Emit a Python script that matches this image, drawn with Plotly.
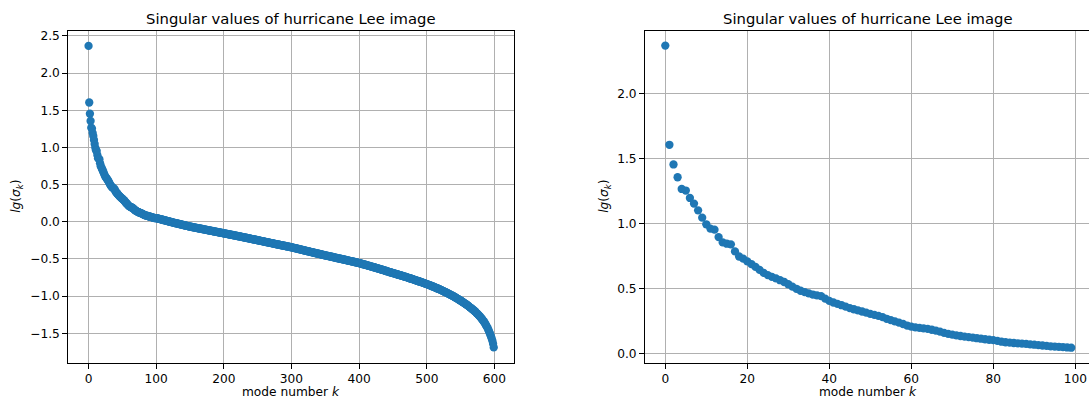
import plotly.graph_objects as go

title_text = "Singular values of hurricane Lee image"
xlabel_text = "mode number <i>k</i>"
ylabel_text = "<i>lg</i>(<i>σ</i><sub><i>k</i></sub>)"

# lg(sigma_k) for modes k = 0..99
lg_sigma_0_99 = [
    2.366, 1.605, 1.454, 1.356, 1.266, 1.254, 1.197, 1.154, 1.102, 1.046,
    0.995, 0.962, 0.954, 0.897, 0.856, 0.846, 0.841, 0.787, 0.748, 0.731,
    0.710, 0.690, 0.668, 0.645, 0.622, 0.605, 0.592, 0.580, 0.566, 0.552,
    0.535, 0.517, 0.500, 0.485, 0.474, 0.465, 0.456, 0.450, 0.444, 0.425,
    0.407, 0.395, 0.384, 0.374, 0.363, 0.352, 0.343, 0.334, 0.326, 0.317,
    0.308, 0.300, 0.292, 0.283, 0.270, 0.260, 0.250, 0.240, 0.230, 0.218,
    0.210, 0.204, 0.200, 0.196, 0.192, 0.186, 0.179, 0.171, 0.162, 0.154,
    0.148, 0.143, 0.138, 0.133, 0.129, 0.125, 0.121, 0.117, 0.113, 0.109,
    0.106, 0.100, 0.094, 0.090, 0.087, 0.084, 0.082, 0.079, 0.077, 0.074,
    0.071, 0.068, 0.065, 0.062, 0.059, 0.057, 0.055, 0.052, 0.050, 0.048,
]

# lg(sigma_k) for modes k = 100..599
lg_sigma_100_599 = [
    0.050, 0.048, 0.045, 0.043, 0.040, 0.038, 0.036, 0.033, 0.031, 0.028,
    0.026, 0.024, 0.021, 0.019, 0.016, 0.014, 0.012, 0.009, 0.007, 0.004,
    0.002, 0.000, -0.003, -0.005, -0.008, -0.010, -0.012, -0.014, -0.017, -0.019,
    -0.021, -0.023, -0.025, -0.028, -0.030, -0.032, -0.034, -0.036, -0.039, -0.041,
    -0.043, -0.045, -0.047, -0.050, -0.052, -0.054, -0.056, -0.058, -0.061, -0.063,
    -0.065, -0.067, -0.069, -0.070, -0.072, -0.074, -0.076, -0.078, -0.079, -0.081,
    -0.083, -0.085, -0.087, -0.088, -0.090, -0.092, -0.094, -0.096, -0.097, -0.099,
    -0.101, -0.103, -0.105, -0.106, -0.108, -0.110, -0.112, -0.114, -0.115, -0.117,
    -0.119, -0.121, -0.123, -0.124, -0.126, -0.128, -0.130, -0.132, -0.133, -0.135,
    -0.137, -0.139, -0.141, -0.142, -0.144, -0.146, -0.148, -0.150, -0.151, -0.153,
    -0.155, -0.157, -0.159, -0.160, -0.162, -0.164, -0.166, -0.168, -0.169, -0.171,
    -0.173, -0.175, -0.177, -0.178, -0.180, -0.182, -0.184, -0.186, -0.187, -0.189,
    -0.191, -0.193, -0.195, -0.196, -0.198, -0.200, -0.202, -0.204, -0.206, -0.208,
    -0.210, -0.212, -0.213, -0.215, -0.217, -0.219, -0.221, -0.223, -0.225, -0.227,
    -0.229, -0.231, -0.233, -0.235, -0.236, -0.238, -0.240, -0.242, -0.244, -0.246,
    -0.248, -0.250, -0.252, -0.254, -0.256, -0.258, -0.260, -0.261, -0.263, -0.265,
    -0.267, -0.269, -0.271, -0.273, -0.275, -0.277, -0.279, -0.281, -0.283, -0.284,
    -0.286, -0.288, -0.290, -0.292, -0.294, -0.296, -0.298, -0.300, -0.302, -0.304,
    -0.305, -0.307, -0.309, -0.311, -0.313, -0.315, -0.317, -0.319, -0.320, -0.322,
    -0.324, -0.326, -0.328, -0.330, -0.332, -0.334, -0.335, -0.337, -0.339, -0.341,
    -0.343, -0.345, -0.347, -0.350, -0.352, -0.354, -0.356, -0.358, -0.361, -0.363,
    -0.365, -0.367, -0.369, -0.372, -0.374, -0.376, -0.378, -0.380, -0.383, -0.385,
    -0.387, -0.389, -0.391, -0.394, -0.396, -0.398, -0.400, -0.402, -0.404, -0.407,
    -0.409, -0.411, -0.413, -0.415, -0.417, -0.420, -0.422, -0.424, -0.426, -0.428,
    -0.430, -0.433, -0.435, -0.437, -0.439, -0.441, -0.443, -0.446, -0.448, -0.450,
    -0.452, -0.454, -0.456, -0.458, -0.460, -0.462, -0.464, -0.466, -0.468, -0.470,
    -0.472, -0.474, -0.476, -0.479, -0.481, -0.483, -0.485, -0.487, -0.489, -0.491,
    -0.493, -0.495, -0.497, -0.499, -0.501, -0.503, -0.505, -0.507, -0.509, -0.511,
    -0.513, -0.515, -0.518, -0.520, -0.522, -0.524, -0.526, -0.528, -0.530, -0.532,
    -0.534, -0.536, -0.538, -0.541, -0.543, -0.545, -0.547, -0.549, -0.551, -0.553,
    -0.555, -0.558, -0.560, -0.563, -0.565, -0.568, -0.571, -0.573, -0.576, -0.578,
    -0.581, -0.584, -0.586, -0.589, -0.591, -0.594, -0.597, -0.599, -0.602, -0.604,
    -0.607, -0.610, -0.612, -0.615, -0.617, -0.620, -0.623, -0.626, -0.628, -0.631,
    -0.634, -0.637, -0.640, -0.642, -0.645, -0.648, -0.651, -0.654, -0.656, -0.659,
    -0.662, -0.665, -0.668, -0.670, -0.673, -0.676, -0.679, -0.682, -0.684, -0.687,
    -0.690, -0.693, -0.695, -0.698, -0.701, -0.704, -0.706, -0.709, -0.712, -0.714,
    -0.717, -0.720, -0.723, -0.725, -0.728, -0.731, -0.734, -0.737, -0.739, -0.742,
    -0.745, -0.748, -0.751, -0.754, -0.757, -0.760, -0.763, -0.766, -0.769, -0.772,
    -0.775, -0.778, -0.781, -0.784, -0.787, -0.791, -0.794, -0.797, -0.800, -0.803,
    -0.806, -0.809, -0.812, -0.816, -0.819, -0.822, -0.825, -0.828, -0.832, -0.835,
    -0.838, -0.842, -0.845, -0.849, -0.852, -0.856, -0.860, -0.863, -0.867, -0.870,
    -0.874, -0.878, -0.882, -0.886, -0.890, -0.894, -0.897, -0.901, -0.905, -0.909,
    -0.913, -0.917, -0.922, -0.926, -0.931, -0.935, -0.939, -0.944, -0.948, -0.953,
    -0.957, -0.962, -0.967, -0.971, -0.976, -0.981, -0.986, -0.991, -0.995, -1.000,
    -1.005, -1.011, -1.016, -1.022, -1.027, -1.033, -1.038, -1.044, -1.049, -1.055,
    -1.060, -1.066, -1.072, -1.079, -1.085, -1.091, -1.097, -1.103, -1.110, -1.116,
    -1.122, -1.129, -1.137, -1.144, -1.151, -1.159, -1.166, -1.173, -1.180, -1.188,
    -1.195, -1.204, -1.213, -1.222, -1.231, -1.240, -1.250, -1.260, -1.270, -1.280,
    -1.290, -1.302, -1.314, -1.326, -1.338, -1.350, -1.366, -1.382, -1.398, -1.414,
    -1.430, -1.452, -1.474, -1.497, -1.520, -1.545, -1.572, -1.602, -1.640, -1.690,
]

lg_sigma_all = lg_sigma_0_99 + lg_sigma_100_599
mode_all = list(range(len(lg_sigma_all)))
n_zoom = 100
mode_zoom = mode_all[:n_zoom]
lg_sigma_zoom = lg_sigma_all[:n_zoom]

left_yticks = [-1.5, -1.0, -0.5, 0.0, 0.5, 1.0, 1.5, 2.0, 2.5]
right_yticks = [0.0, 0.5, 1.0, 1.5, 2.0]

W, H = 1089, 400
BLUE = "#1f77b4"
FONT = "DejaVu Sans, Liberation Sans, sans-serif"
TICK_SIZE = 12.2
TITLE_SIZE = 14.8

# plot-area pixel boxes
L_x0, L_x1 = 68.3, 514.0
R_x0, R_x1 = 645.0, 1089.0
Y_top, Y_bot = 31.0, 362.7

fig = go.Figure()
fig.add_trace(go.Scatter(x=mode_all, y=lg_sigma_all, mode="markers",
                         marker=dict(color=BLUE, size=8.3, line=dict(width=0)),
                         xaxis="x", yaxis="y", showlegend=False))
fig.add_trace(go.Scatter(x=mode_zoom, y=lg_sigma_zoom, mode="markers",
                         marker=dict(color=BLUE, size=8.3, line=dict(width=0)),
                         xaxis="x2", yaxis="y2", showlegend=False))

common = dict(
    showgrid=True, gridcolor="#b0b0b0", gridwidth=1,
    showline=True, linecolor="black", linewidth=1,
    ticks="outside", ticklen=5, tickwidth=1, tickcolor="black",
    zeroline=False, automargin=False,
    tickfont=dict(family=FONT, size=TICK_SIZE, color="black"),
)

ydom = [1 - Y_bot / H, 1 - Y_top / H]

fig.update_layout(
    width=W, height=H,
    margin=dict(l=0, r=0, t=0, b=0),
    paper_bgcolor="white", plot_bgcolor="white",
    xaxis=dict(domain=[L_x0 / W, L_x1 / W], range=[-29.95, 628.95],
               tick0=0, dtick=100, mirror=True, anchor="y", **common),
    yaxis=dict(domain=ydom, range=[-1.896, 2.567],
               tickvals=left_yticks, tickformat=".1f", mirror=True, anchor="x", **common),
    xaxis2=dict(domain=[R_x0 / W, R_x1 / W], range=[-4.95, 103.34],
                tick0=0, dtick=20, mirror=True, anchor="y2", **common),
    yaxis2=dict(domain=ydom, range=[-0.067, 2.478],
                tickvals=right_yticks, tickformat=".1f", mirror=False, anchor="x2", **common),
)

ann_font = dict(family=FONT, size=TICK_SIZE, color="black")
annotations = []
for (x0, x1) in [(L_x0, L_x1), (R_x0, 1091.5)]:
    cx = (x0 + x1) / 2 / W
    annotations.append(dict(text=title_text, x=cx, y=1 - 18 / H, xref="paper", yref="paper",
                            xanchor="center", yanchor="middle", showarrow=False,
                            font=dict(family=FONT, size=TITLE_SIZE, color="black")))
    annotations.append(dict(text=xlabel_text, x=cx, y=1 - 392 / H, xref="paper", yref="paper",
                            xanchor="center", yanchor="middle", showarrow=False, font=ann_font))
for lx in [17, 605]:
    annotations.append(dict(text=ylabel_text, x=lx / W, y=1 - ((Y_top + Y_bot) / 2) / H,
                            xref="paper", yref="paper", xanchor="center", yanchor="middle",
                            textangle=-90, showarrow=False, font=ann_font))
fig.update_layout(annotations=annotations)

fig.write_html(
    "out.html",
    config={"displayModeBar": False},
    post_script="document.body.style.margin='0';document.body.style.padding='0';"
                "document.body.style.overflow='hidden';",
)
